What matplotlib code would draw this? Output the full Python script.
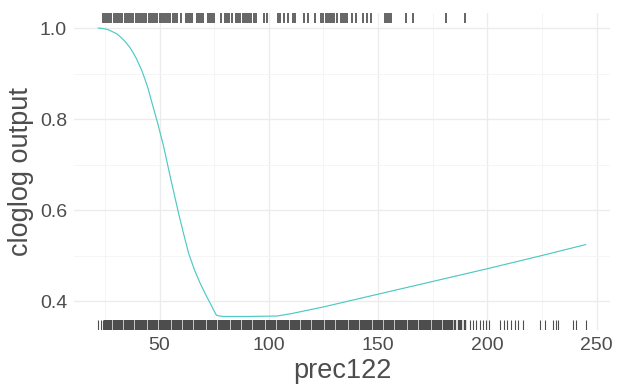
import matplotlib
matplotlib.use("Agg")
import matplotlib.pyplot as plt
from matplotlib.ticker import MultipleLocator

plt.rcParams["font.family"] = ["Liberation Sans", "DejaVu Sans"]

# Response curve of the cloglog output along prec122
curve_x = [22, 24, 26, 28, 30.5, 32, 33.5, 35, 36.6, 38, 39.5, 41, 42, 43.2,
           44.5, 45.5, 46.5, 48.8, 51.9, 54.9, 58.7, 61, 63.3, 66, 68.6, 71,
           73.2, 75, 76, 77.5, 79.3, 90, 103.7, 110, 125, 150, 175, 200, 225,
           245]
curve_y = [1.0, 0.999, 0.997, 0.993, 0.987, 0.981, 0.974, 0.966, 0.956, 0.945,
           0.932, 0.916, 0.905, 0.889, 0.871, 0.854, 0.836, 0.797, 0.739, 0.673,
           0.593, 0.548, 0.505, 0.468, 0.439, 0.415, 0.395, 0.378, 0.369, 0.367,
           0.366, 0.366, 0.367, 0.372, 0.387, 0.415, 0.443, 0.471, 0.500, 0.524]

# Presence records (top rug)
presence = [24, 25, 26, 27, 28, 29, 30, 31, 32, 33, 34, 35, 36, 37, 38, 39, 40,
            41, 42, 43, 44, 45, 46, 47, 48, 49, 50, 51, 52, 53, 54, 55, 56, 57,
            58, 60, 62, 63, 64, 65, 67, 68, 69, 70, 72, 73, 74, 75, 78, 80, 81,
            82, 83, 85, 86, 87, 88, 89, 90, 91, 92, 93, 94, 98, 99, 104, 105,
            107, 109, 111, 112, 116, 118, 121, 124, 125, 126, 127, 128, 129,
            130, 131, 133, 134, 135, 136, 138, 140, 143, 145, 147, 153, 154,
            155, 156, 163, 166, 181, 190]

# Background sample (bottom rug): densely covered range
background_dense = [25, 26, 27, 28, 29, 30, 31, 32, 33, 34, 35, 36, 37, 38, 39,
                    40, 41, 42, 43, 44, 45, 46, 47, 48, 49, 50, 51, 52, 53, 54,
                    55, 56, 57, 58, 59, 60, 61, 62, 63, 64, 65, 66, 67, 68, 69,
                    70, 71, 72, 73, 74, 75, 76, 77, 78, 79, 80, 81, 82, 83, 84,
                    85, 86, 87, 88, 89, 90, 91, 92, 93, 94, 95, 96, 97, 98, 99,
                    100, 101, 102, 103, 104, 105, 106, 107, 108, 109, 110, 111,
                    112, 113, 114, 115, 116, 117, 118, 119, 120, 121, 122, 123,
                    124, 125, 126, 127, 128, 129, 130, 131, 132, 133, 134, 135,
                    136, 137, 138, 139, 140, 141, 142, 143, 144, 145, 146, 147,
                    148, 149, 150, 151, 152, 153, 154, 155, 156, 157, 158, 159,
                    160, 161, 162, 163, 164, 165, 166, 167, 168, 169, 170, 171,
                    172, 173, 174, 175, 176, 177, 178, 179, 180, 181, 182, 183,
                    184, 185, 187, 188, 190]
# Background sample: isolated values at the tails
background_sparse = [22, 23, 24, 192, 193.5, 195, 196.5, 198, 199.5, 201, 206,
                     207.5, 209, 211, 212.5, 214, 216.5, 224, 226.5, 230, 231.5,
                     232.5, 239, 240.5, 245]

x_ticks = [50, 100, 150, 200, 250]
y_ticks = [0.4, 0.6, 0.8, 1.0]
y_tick_labels = ["0.4", "0.6", "0.8", "1.0"]

text_col = "#4d4d4d"
rug_col = "#4d4d4d"
line_col = "#4ec9c5"

fig = plt.figure(figsize=(6.29, 3.87), dpi=100)
ax = fig.add_axes([74 / 629, 1 - 330 / 387, (610 - 74) / 629, (330 - 13) / 387])

ax.set_xlim(10.85, 256.15)
ax.set_ylim(0.3363, 1.033)

ax.set_xticks(x_ticks)
ax.set_yticks(y_ticks)
ax.set_yticklabels(y_tick_labels)
ax.xaxis.set_minor_locator(MultipleLocator(25))
ax.yaxis.set_minor_locator(MultipleLocator(0.1))

ax.grid(which="major", color="#ececec", linewidth=1.0)
ax.grid(which="minor", color="#f4f4f4", linewidth=0.6)
ax.set_axisbelow(True)
for s in ax.spines.values():
    s.set_visible(False)
ax.tick_params(which="both", length=0, labelsize=14, labelcolor=text_col)
ax.tick_params(axis="x", pad=5)
ax.tick_params(axis="y", pad=5)

ax.plot(curve_x, curve_y, color=line_col, linewidth=0.85, zorder=3)

trans = ax.get_xaxis_transform()
ax.vlines(presence, 0.97, 1.0, transform=trans, color=rug_col, linewidth=1.35,
          alpha=0.9)
ax.vlines(background_dense, 0.0, 0.03, transform=trans, color=rug_col,
          linewidth=1.7)
ax.vlines(background_sparse, 0.0, 0.03, transform=trans, color=rug_col,
          linewidth=0.8)

ax.set_xlabel("prec122", fontsize=19.5, color=text_col, labelpad=3)
ax.set_ylabel("cloglog output", fontsize=19.5, color=text_col, labelpad=4)

fig.savefig("out.png", dpi=100, facecolor="white")
